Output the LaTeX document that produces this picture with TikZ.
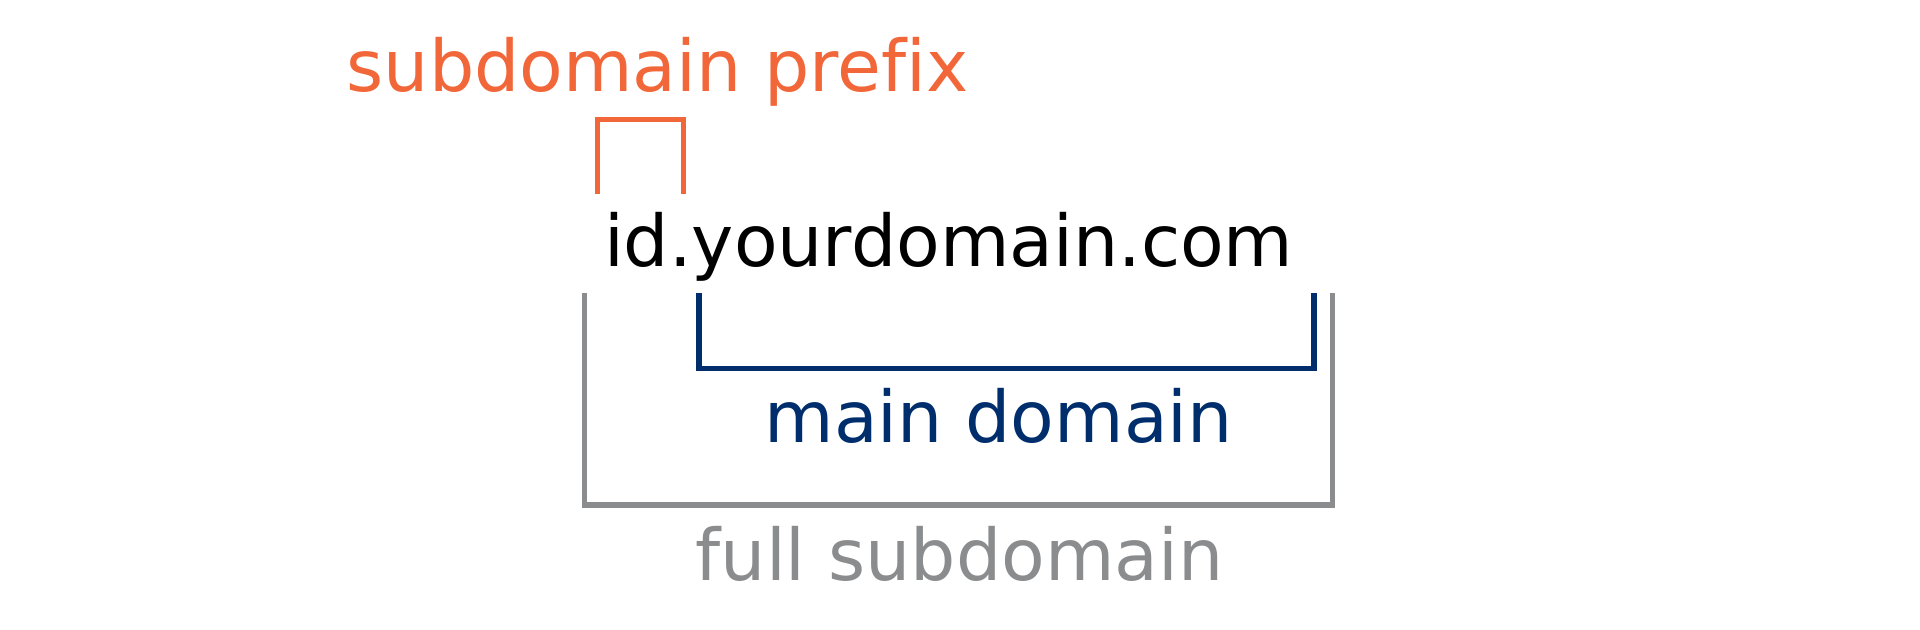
\documentclass[tikz,border=0pt]{standalone}
\usepackage{fontspec}
\setmainfont{DejaVu Sans}[Ligatures=NoCommon]
\definecolor{prefixorange}{HTML}{F26739}
\definecolor{mainblue}{HTML}{002E6D}
\definecolor{fullgray}{HTML}{8A8C8E}

\begin{document}
\begin{tikzpicture}[x=1cm, y=1cm,
		every node/.style={inner sep=0pt, anchor=base west, font=\fontsize{20.3}{24}\selectfont},
		bracket/.style={line width=1.56pt}]

		\useasboundingbox (0,0) rectangle (19.2,-6.29);

		% Define the nodes
		\node[text=prefixorange] (prefix) at (3.46,-0.91) {subdomain prefix};
		\node (domain) at (6.033,-2.66) {id.yourdomain.com};
		\node[text=mainblue] (main) at (7.64,-4.42) {main domain};
		\node[text=fullgray] (full) at (6.95,-5.80) {full subdomain};

		% Define the bracket ends
		\coordinate (prefix_left) at (5.975,-1.94);
		\coordinate (prefix_right) at (6.837,-1.94);
		\coordinate (main_left) at (6.99,-2.933);
		\coordinate (main_right) at (13.142,-2.933);
		\coordinate (full_left) at (5.847,-2.933);
		\coordinate (full_right) at (13.324,-2.933);

		% Draw the brackets
		\draw[bracket, prefixorange] (prefix_left) -- ++(0,0.747) -| (prefix_right);
		\draw[bracket, mainblue] (main_left) -- ++(0,-0.752) -| (main_right);
		\draw[bracket, fullgray] (full_left) -- ++(0,-2.117) -| (full_right);

	\end{tikzpicture}
\end{document}
